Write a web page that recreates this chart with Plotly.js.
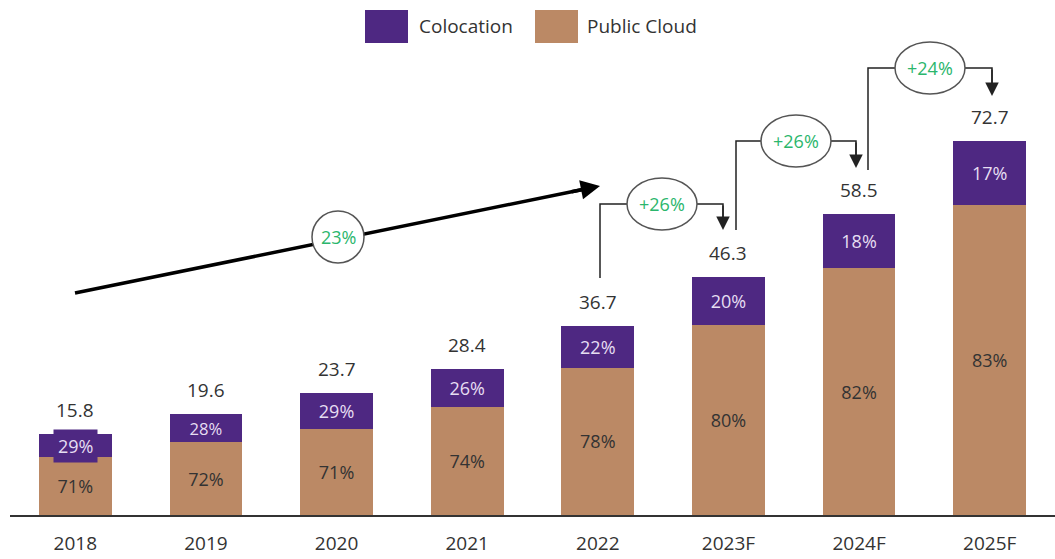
<!DOCTYPE html>
<html>
<head>
<meta charset="utf-8">
<script src="https://cdn.plot.ly/plotly-3.0.1.min.js"></script>
<style>html,body{margin:0;padding:0;background:#fff;}#chart{width:1055px;height:559px;}</style>
</head>
<body>
<div id="chart"></div>
<script>
const categories = ['2018', '2019', '2020', '2021', '2022', '2023F', '2024F', '2025F'];
const totals = [15.8, 19.6, 23.7, 28.4, 36.7, 46.3, 58.5, 72.7];
const publicCloudPct = [71, 72, 71, 74, 78, 80, 82, 83];
const colocationPct = [29, 28, 29, 26, 22, 20, 18, 17];
const cagrLabel = '23%';
const stepGrowthLabels = ['+26%', '+26%', '+24%'];

const PURPLE = '#4e2882';
const BROWN = '#bb8965';
const GREEN = '#2bb66c';
const FONT = 'Open Sans, Noto Sans, sans-serif';

const publicVals = totals.map((t, i) => +(t * publicCloudPct[i] / 100).toFixed(3));
const coloVals = totals.map((t, i) => +(t - publicVals[i]).toFixed(3));

// pixel -> paper helpers for decorations (plot area: x 10..1055, y 0..515)
const PX = p => (p - 10) / 1045;
const PY = p => (515 - p) / 515;

const traces = [
  {
    type: 'bar', name: 'Public Cloud', x: categories, y: publicVals,
    marker: {color: BROWN},
    text: publicCloudPct.map(v => v + '%'), textposition: 'inside', insidetextanchor: 'middle',
    textfont: {family: FONT, size: 18, color: '#333333'}, hoverinfo: 'skip'
  },
  {
    type: 'bar', name: 'Colocation', x: categories, y: coloVals,
    marker: {color: PURPLE},
    // first label is drawn as a boxed annotation below (wider than its bar in the reference)
    text: colocationPct.map((v, i) => i === 0 ? '' : v + '%'), textposition: 'inside', insidetextanchor: 'middle',
    textfont: {family: FONT, size: 18, color: '#e6def2'}, hoverinfo: 'skip'
  }
];

const annotations = [];
const shapes = [];

// total labels (x given as category index)
categories.forEach((c, i) => {
  annotations.push({x: i, y: totals[i], xref: 'x', yref: 'y', text: totals[i].toFixed(1),
    showarrow: false, xanchor: 'center', yanchor: 'bottom', yshift: 9, font: {family: FONT, size: 19, color: '#333333'}});
});

// 2018 colocation label box (wider than bar)
annotations.push({x: 0, y: publicVals[0] + coloVals[0] / 2, xref: 'x', yref: 'y',
  text: colocationPct[0] + '%', showarrow: false, xanchor: 'center', yanchor: 'middle', bgcolor: PURPLE, borderpad: 4,
  font: {family: FONT, size: 18, color: '#e6def2'}});

// legend (custom)
shapes.push({type: 'rect', xref: 'paper', yref: 'paper', x0: PX(365), x1: PX(408), y0: PY(43), y1: PY(10), fillcolor: PURPLE, line: {width: 0}});
shapes.push({type: 'rect', xref: 'paper', yref: 'paper', x0: PX(535), x1: PX(578), y0: PY(43), y1: PY(10), fillcolor: BROWN, line: {width: 0}});
annotations.push({xref: 'paper', yref: 'paper', x: PX(417), y: PY(26), xanchor: 'left', yanchor: 'middle', showarrow: false, text: 'Colocation', font: {family: FONT, size: 19, color: '#333333'}});
annotations.push({xref: 'paper', yref: 'paper', x: PX(585), y: PY(26), xanchor: 'left', yanchor: 'middle', showarrow: false, text: 'Public Cloud', font: {family: FONT, size: 19, color: '#333333'}});

// long CAGR arrow
shapes.push({type: 'line', xref: 'paper', yref: 'paper', x0: PX(75), y0: PY(293), x1: PX(590), y1: PY(188), line: {color: '#000', width: 3.5}});
annotations.push({xref: 'paper', yref: 'paper', x: PX(600), y: PY(186), ax: -30, ay: 6, showarrow: true, arrowhead: 2, arrowsize: 1.1, arrowwidth: 3.5, arrowcolor: '#000', text: ''});
shapes.push({type: 'circle', xref: 'paper', yref: 'paper', x0: PX(312), x1: PX(364), y0: PY(263), y1: PY(211), fillcolor: '#fff', line: {color: '#555', width: 1.5}});
annotations.push({xref: 'paper', yref: 'paper', x: PX(338), y: PY(237), xanchor: 'center', yanchor: 'middle', showarrow: false, text: cagrLabel, font: {family: FONT, size: 18, color: GREEN}});

// step arrows
const steps = [
  {x0: 600, yb: 278, yt: 204, x1: 723, tip: 230, cx: 662},
  {x0: 736, yb: 230, yt: 141, x1: 856, tip: 168, cx: 796},
  {x0: 868, yb: 170, yt: 68, x1: 992, tip: 96, cx: 930}
];
steps.forEach((s, k) => {
  shapes.push({type: 'path', xref: 'paper', yref: 'paper',
    path: `M ${PX(s.x0)},${PY(s.yb)} L ${PX(s.x0)},${PY(s.yt)} L ${PX(s.x1)},${PY(s.yt)} L ${PX(s.x1)},${PY(s.tip - 8)}`,
    line: {color: '#222', width: 1.5}});
  annotations.push({xref: 'paper', yref: 'paper', x: PX(s.x1), y: PY(s.tip), ax: 0, ay: -(s.tip - s.yt), showarrow: true,
    arrowhead: 2, arrowsize: 1.8, arrowwidth: 1.5, arrowcolor: '#222', text: ''});
  shapes.push({type: 'circle', xref: 'paper', yref: 'paper', x0: PX(s.cx - 35), x1: PX(s.cx + 35), y0: PY(s.yt + 26), y1: PY(s.yt - 26),
    fillcolor: '#fff', line: {color: '#555', width: 1.5}});
  annotations.push({xref: 'paper', yref: 'paper', x: PX(s.cx), y: PY(s.yt), xanchor: 'center', yanchor: 'middle', showarrow: false, text: stepGrowthLabels[k],
    font: {family: FONT, size: 18, color: GREEN}});
});

const layout = {
  width: 1055, height: 559,
  margin: {l: 10, r: 0, t: 0, b: 44},
  barmode: 'stack', bargap: 0.443,
  showlegend: false,
  paper_bgcolor: '#fff', plot_bgcolor: '#fff',
  font: {family: FONT, color: '#333333'},
  xaxis: {type: 'category', range: [-0.5, 7.5], autorange: false, showline: true, linecolor: '#333', linewidth: 2, showgrid: false, zeroline: false,
    ticks: 'outside', ticklen: 10, tickcolor: 'rgba(0,0,0,0)', tickfont: {family: FONT, size: 19, color: '#333333'}},
  yaxis: {range: [0, 100.2], autorange: false, visible: false, showgrid: false, zeroline: false},
  shapes: shapes, annotations: annotations
};

Plotly.newPlot('chart', traces, layout, {staticPlot: true, displayModeBar: false});
</script>
</body>
</html>
